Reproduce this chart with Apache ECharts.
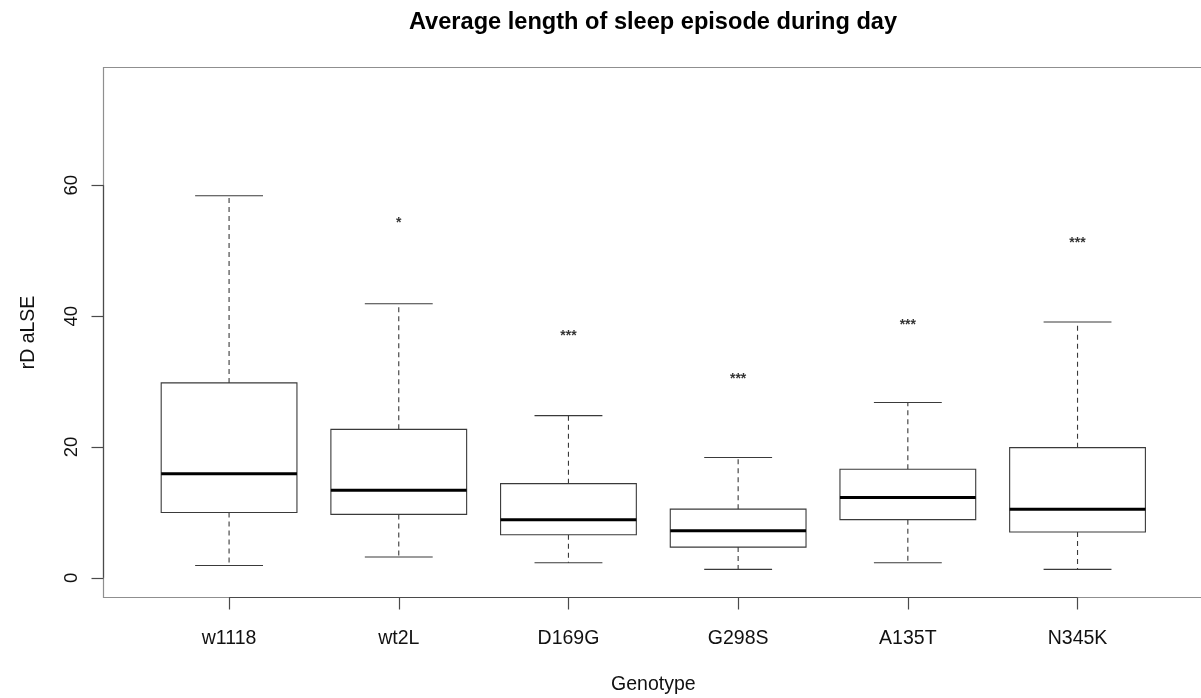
<!DOCTYPE html>
<html>
<head>
<meta charset="utf-8">
<title>Average length of sleep episode during day</title>
<script src="https://cdn.jsdelivr.net/npm/echarts@6/dist/echarts.min.js"></script>
<style>
  html, body { margin: 0; padding: 0; background: #fff; }
  #chart { width: 1201px; height: 698px; }
</style>
</head>
<body>
<div id="chart"></div>
<script>
// Genotypes along the x axis
const genotypes = ['w1118', 'wt2L', 'D169G', 'G298S', 'A135T', 'N345K'];

// Five-number summaries of rD aLSE per genotype
const whiskerLow  = [1.9, 3.2, 2.3, 1.3, 2.3, 1.3];
const quartile1   = [10.0, 9.7, 6.6, 4.7, 8.9, 7.0];
const medians     = [15.9, 13.4, 8.9, 7.2, 12.3, 10.5];
const quartile3   = [29.8, 22.7, 14.4, 10.5, 16.6, 19.9];
const whiskerHigh = [58.4, 41.9, 24.8, 18.4, 26.8, 39.1];

// Significance marks and the height they are printed at
const sigLabels = ['', '*', '***', '***', '***', '***'];
const sigY      = [null, 54.2, 37.0, 30.4, 38.6, 51.1];

// Axis ticks
const yTicks = [0, 20, 40, 60];
const xTicks = genotypes.map((g, i) => i + 1);

// Axis ranges (4% padding round the plotted limits)
const X_MIN = 0.26, X_MAX = 6.74;
const Y_MIN = -3, Y_MAX = 78;

const FONT = '"Liberation Sans", Arial, Helvetica, sans-serif';
const BOX_COLOR = '#3a3a3a';

const boxData = genotypes.map((g, i) => [
  i + 1, whiskerLow[i], quartile1[i], medians[i], quartile3[i], whiskerHigh[i]
]);

const sigData = genotypes
  .map((g, i) => ({ value: [i + 1, sigY[i]], label: sigLabels[i] }))
  .filter(d => d.value[1] != null);

function renderBox(params, api) {
  const x = api.value(0);
  const lo = api.coord([x, api.value(1)]);
  const q1 = api.coord([x, api.value(2)]);
  const md = api.coord([x, api.value(3)]);
  const q3 = api.coord([x, api.value(4)]);
  const hi = api.coord([x, api.value(5)]);
  const band = api.size([1, 0])[0];
  const half = band * 0.4;
  const staple = half * 0.5;
  const cx = md[0];
  const thin = { stroke: BOX_COLOR, lineWidth: 1.1, fill: null };
  const dashed = { stroke: BOX_COLOR, lineWidth: 1.1, lineDash: [5, 4] };
  return {
    type: 'group',
    children: [
      { type: 'line', shape: { x1: cx, y1: q3[1], x2: cx, y2: hi[1] }, style: dashed },
      { type: 'line', shape: { x1: cx, y1: q1[1], x2: cx, y2: lo[1] }, style: dashed },
      { type: 'line', shape: { x1: cx - staple, y1: hi[1], x2: cx + staple, y2: hi[1] }, style: thin },
      { type: 'line', shape: { x1: cx - staple, y1: lo[1], x2: cx + staple, y2: lo[1] }, style: thin },
      { type: 'rect', shape: { x: cx - half, y: q3[1], width: half * 2, height: q1[1] - q3[1] },
        style: { stroke: BOX_COLOR, lineWidth: 1.1, fill: '#fff' } },
      { type: 'line', shape: { x1: cx - half, y1: md[1], x2: cx + half, y2: md[1] },
        style: { stroke: '#000', lineWidth: 3 } }
    ]
  };
}

// Axis lines running from the first to the last tick
function renderAxisLines(params, api) {
  const yA = api.coord([X_MIN, yTicks[0]]);
  const yB = api.coord([X_MIN, yTicks[yTicks.length - 1]]);
  const xA = api.coord([xTicks[0], Y_MIN]);
  const xB = api.coord([xTicks[xTicks.length - 1], Y_MIN]);
  const st = { stroke: '#4a4a4a', lineWidth: 1.2 };
  return {
    type: 'group',
    children: [
      { type: 'line', shape: { x1: yA[0], y1: yA[1], x2: yB[0], y2: yB[1] }, style: st },
      { type: 'line', shape: { x1: xA[0], y1: xA[1], x2: xB[0], y2: xB[1] }, style: st }
    ]
  };
}

const chart = echarts.init(document.getElementById('chart'), null, { renderer: 'canvas' });

chart.setOption({
  animation: false,
  backgroundColor: '#fff',
  graphic: [{
    type: 'text',
    x: 653, y: 22,
    style: {
      text: 'Average length of sleep episode during day',
      font: 'bold 23.6px ' + FONT,
      fill: '#000',
      textAlign: 'center',
      textVerticalAlign: 'middle'
    }
  }],
  grid: {
    left: 103.5, top: 67.5, width: 1099.6, height: 530,
    outerBoundsMode: 'none',
    containLabel: false,
    show: true, borderColor: '#8f8f8f', borderWidth: 1.2, backgroundColor: 'transparent'
  },
  xAxis: {
    type: 'value',
    min: X_MIN, max: X_MAX,
    axisLine: { show: false, onZero: false },
    splitLine: { show: false },
    axisTick: {
      show: true, inside: false, length: 12,
      customValues: xTicks,
      lineStyle: { color: '#4a4a4a', width: 1.2 }
    },
    axisLabel: {
      customValues: xTicks,
      formatter: v => genotypes[Math.round(v) - 1] || '',
      margin: 31,
      fontFamily: FONT, fontSize: 19.5, color: '#111'
    },
    name: 'Genotype',
    nameLocation: 'middle',
    nameGap: 77,
    nameTextStyle: { fontFamily: FONT, fontSize: 19.5, color: '#111' }
  },
  yAxis: {
    type: 'value',
    min: Y_MIN, max: Y_MAX,
    axisLine: { show: false, onZero: false },
    splitLine: { show: false },
    axisTick: {
      show: true, inside: false, length: 12,
      customValues: yTicks,
      lineStyle: { color: '#4a4a4a', width: 1.2 }
    },
    axisLabel: {
      customValues: yTicks,
      rotate: 90,
      margin: 22,
      fontFamily: FONT, fontSize: 18.5, color: '#111'
    },
    name: 'rD aLSE',
    nameLocation: 'middle',
    nameRotate: 90,
    nameGap: 65,
    nameTextStyle: { fontFamily: FONT, fontSize: 19.5, color: '#111' }
  },
  series: [
    {
      name: 'boxes',
      type: 'custom',
      renderItem: renderBox,
      data: boxData,
      encode: { x: 0, y: [1, 2, 3, 4, 5] },
      z: 3
    },
    {
      name: 'axis lines',
      type: 'custom',
      renderItem: renderAxisLines,
      data: [[0]],
      clip: false,
      silent: true,
      z: 4
    },
    {
      name: 'significance',
      type: 'scatter',
      symbolSize: 0,
      data: sigData,
      label: {
        show: true,
        position: 'inside',
        formatter: p => p.data.label,
        fontFamily: FONT, fontSize: 14, fontWeight: 'bold', color: '#000'
      },
      z: 5
    }
  ]
});
</script>
</body>
</html>
